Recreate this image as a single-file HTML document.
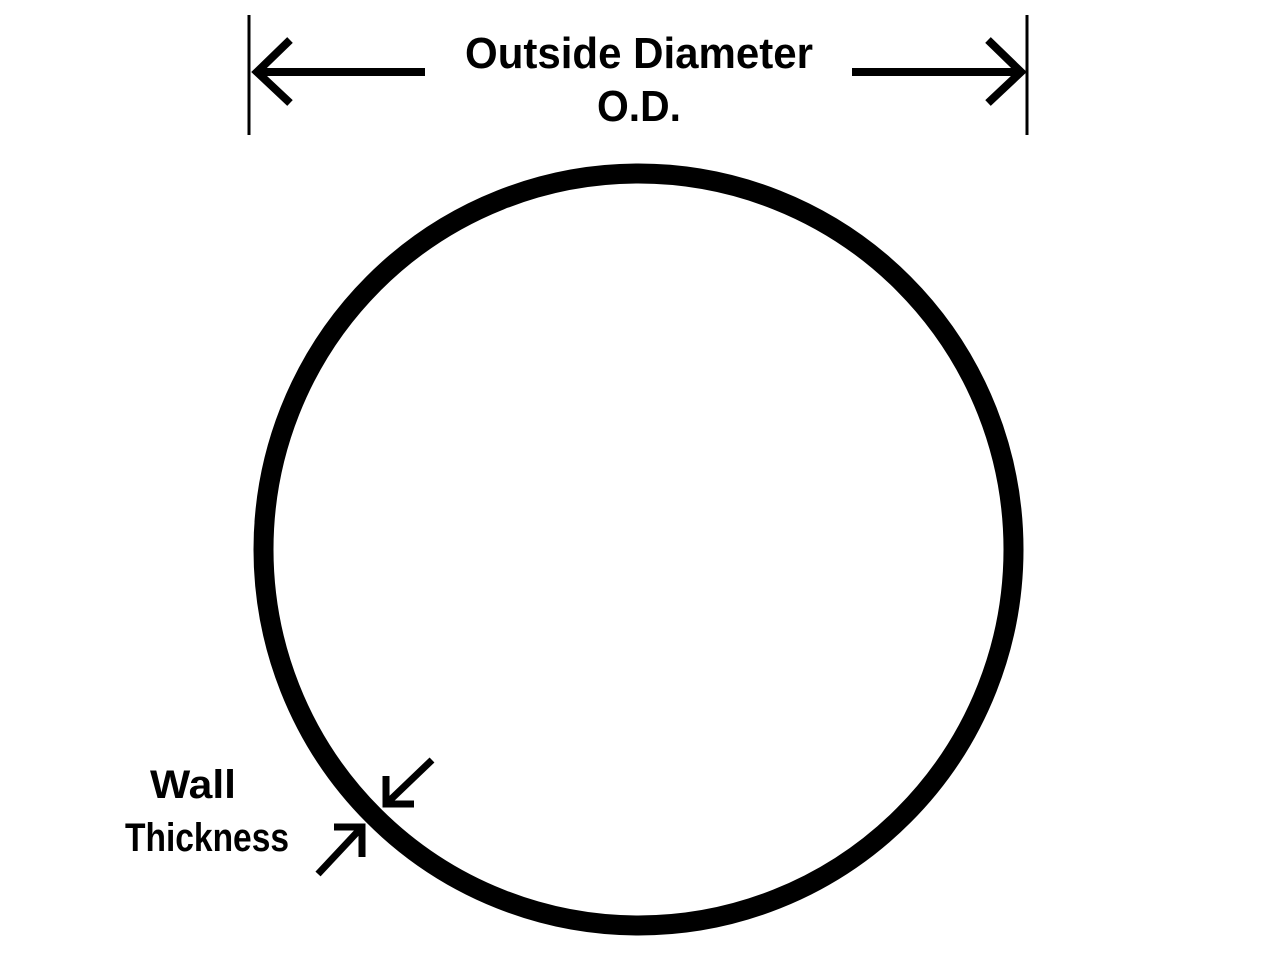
<!DOCTYPE html>
<html><head><style>html,body{margin:0;padding:0;background:#fff;}svg{display:block}</style></head>
<body>
<svg width="1280" height="960" viewBox="0 0 1280 960" xmlns="http://www.w3.org/2000/svg">
<rect width="1280" height="960" fill="#fff"/>
<g stroke="#000" fill="none" stroke-linecap="butt">
<line x1="249" y1="15" x2="249" y2="135" stroke-width="3"/>
<line x1="1027" y1="15" x2="1027" y2="135" stroke-width="3"/>
<line x1="256" y1="72" x2="425" y2="72" stroke-width="8"/>
<line x1="852" y1="72" x2="1020" y2="72" stroke-width="8"/>
<polyline points="290,40 257,72 290,103" stroke-width="8" stroke-linejoin="miter"/>
<polyline points="988,40 1021,72 988,103" stroke-width="8" stroke-linejoin="miter"/>
<ellipse cx="638.5" cy="549.5" rx="375" ry="376" stroke-width="20"/>
<line x1="432" y1="760" x2="386" y2="804" stroke-width="7"/>
<polyline points="386,776 386,804 414,804" stroke-width="7" stroke-linejoin="miter"/>
<line x1="318" y1="874" x2="362" y2="827" stroke-width="7"/>
<polyline points="334,827 362,827 362,857" stroke-width="7" stroke-linejoin="miter"/>
</g>
<g font-family="Liberation Sans, sans-serif" font-weight="bold" fill="#000">
<text x="639" y="68" font-size="44" text-anchor="middle" textLength="348" lengthAdjust="spacingAndGlyphs">Outside Diameter</text>
<text x="639" y="121" font-size="44" text-anchor="middle" textLength="84" lengthAdjust="spacingAndGlyphs">O.D.</text>
<text x="150" y="798" font-size="40" textLength="86" lengthAdjust="spacingAndGlyphs">Wall</text>
<text x="125" y="851" font-size="40" textLength="164" lengthAdjust="spacingAndGlyphs">Thickness</text>
</g>
</svg>
</body></html>
